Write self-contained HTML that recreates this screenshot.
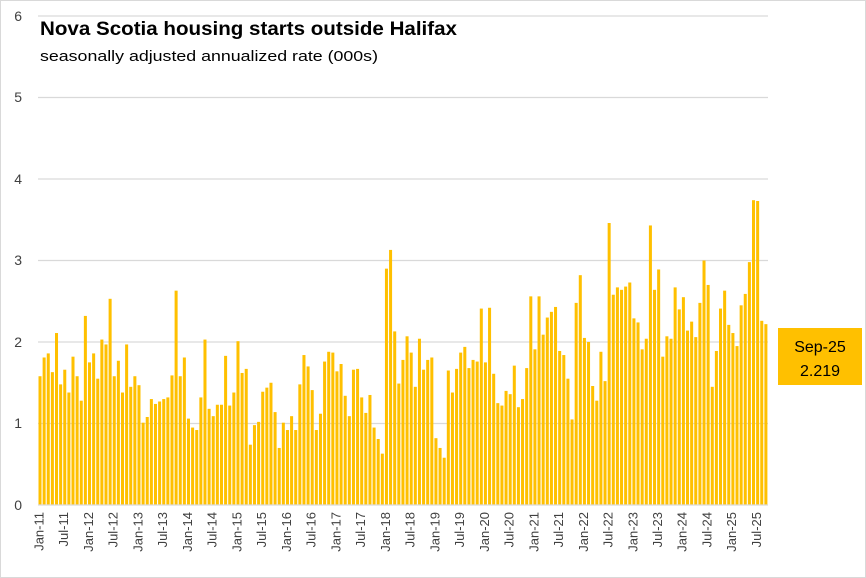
<!DOCTYPE html>
<html><head><meta charset="utf-8"><style>
body{margin:0;background:#fff;}
svg{display:block;font-family:"Liberation Sans",Arial,sans-serif;}
</style></head><body>
<svg id="c" width="866" height="578" viewBox="0 0 866 578" xmlns="http://www.w3.org/2000/svg">
<rect x="0.5" y="0.5" width="865" height="577" fill="#fff" stroke="#d9d9d9"/>
<g stroke="#d9d9d9" stroke-width="1.3">
<line x1="38" x2="768" y1="16" y2="16"/>
<line x1="38" x2="768" y1="97.5" y2="97.5"/>
<line x1="38" x2="768" y1="179" y2="179"/>
<line x1="38" x2="768" y1="260.5" y2="260.5"/>
<line x1="38" x2="768" y1="342" y2="342"/>
<line x1="38" x2="768" y1="423.5" y2="423.5"/>
</g>
<g id="bars" fill="#FFC000"></g>
<line x1="38" x2="768" y1="505" y2="505" stroke="#d9d9d9" stroke-width="1.3"/>
<g font-size="14" fill="#404040" text-anchor="end">
<text x="22" y="21">6</text><text x="22" y="102">5</text><text x="22" y="184">4</text>
<text x="22" y="265">3</text><text x="22" y="347">2</text><text x="22" y="428">1</text><text x="22" y="510">0</text>
</g>
<text x="40" y="35" font-size="19" font-weight="bold" fill="#000" textLength="417" lengthAdjust="spacingAndGlyphs">Nova Scotia housing starts outside Halifax</text>
<text x="40" y="61" font-size="15" fill="#000" textLength="338" lengthAdjust="spacingAndGlyphs">seasonally adjusted annualized rate (000s)</text>
<g font-size="13" fill="#404040" text-anchor="end" dominant-baseline="middle">
<text transform="translate(40.1,512) rotate(-90)">Jan-11</text>
<text transform="translate(64.8,512) rotate(-90)">Jul-11</text>
<text transform="translate(89.6,512) rotate(-90)">Jan-12</text>
<text transform="translate(114.3,512) rotate(-90)">Jul-12</text>
<text transform="translate(139.1,512) rotate(-90)">Jan-13</text>
<text transform="translate(163.8,512) rotate(-90)">Jul-13</text>
<text transform="translate(188.5,512) rotate(-90)">Jan-14</text>
<text transform="translate(213.3,512) rotate(-90)">Jul-14</text>
<text transform="translate(238.0,512) rotate(-90)">Jan-15</text>
<text transform="translate(262.8,512) rotate(-90)">Jul-15</text>
<text transform="translate(287.5,512) rotate(-90)">Jan-16</text>
<text transform="translate(312.2,512) rotate(-90)">Jul-16</text>
<text transform="translate(337.0,512) rotate(-90)">Jan-17</text>
<text transform="translate(361.7,512) rotate(-90)">Jul-17</text>
<text transform="translate(386.5,512) rotate(-90)">Jan-18</text>
<text transform="translate(411.2,512) rotate(-90)">Jul-18</text>
<text transform="translate(435.9,512) rotate(-90)">Jan-19</text>
<text transform="translate(460.7,512) rotate(-90)">Jul-19</text>
<text transform="translate(485.4,512) rotate(-90)">Jan-20</text>
<text transform="translate(510.2,512) rotate(-90)">Jul-20</text>
<text transform="translate(534.9,512) rotate(-90)">Jan-21</text>
<text transform="translate(559.6,512) rotate(-90)">Jul-21</text>
<text transform="translate(584.4,512) rotate(-90)">Jan-22</text>
<text transform="translate(609.1,512) rotate(-90)">Jul-22</text>
<text transform="translate(633.9,512) rotate(-90)">Jan-23</text>
<text transform="translate(658.6,512) rotate(-90)">Jul-23</text>
<text transform="translate(683.3,512) rotate(-90)">Jan-24</text>
<text transform="translate(708.1,512) rotate(-90)">Jul-24</text>
<text transform="translate(732.8,512) rotate(-90)">Jan-25</text>
<text transform="translate(757.6,512) rotate(-90)">Jul-25</text>
</g>
<rect x="778" y="328" width="84" height="57" fill="#FFC000"/>
<text x="820" y="352" font-size="16" text-anchor="middle" fill="#000">Sep-25</text>
<text x="820" y="376" font-size="16" text-anchor="middle" fill="#000">2.219</text>
</svg>
<script>
var v=[1.58,1.81,1.86,1.63,2.11,1.48,1.66,1.38,1.82,1.58,1.28,2.32,
1.75,1.86,1.55,2.03,1.97,2.53,1.58,1.77,1.38,1.97,1.45,1.58,
1.47,1.01,1.08,1.30,1.24,1.27,1.30,1.32,1.59,2.63,1.58,1.81,
1.06,0.95,0.92,1.32,2.03,1.18,1.09,1.23,
1.23,1.83,1.22,1.38,2.01,1.62,1.67,0.74,0.98,1.02,1.39,1.44,
1.50,1.14,0.70,1.01,0.92,1.09,0.92,1.48,1.84,1.70,1.41,0.92,
1.12,1.76,1.88,1.87,1.64,1.73,1.34,1.09,1.66,1.67,1.32,1.13,
1.35,0.95,0.81,0.63,2.90,3.13,2.13,1.49,1.78,
2.07,1.87,1.45,2.04,1.66,1.78,1.81,0.82,0.70,0.58,1.65,1.38,1.67,1.87,1.94,1.68,1.78,1.76,2.41,1.75,2.42,1.61,1.25,1.22,1.40,1.36,1.71,1.20,1.30,1.68,2.56,1.91,2.56,2.09,2.30,2.37,2.43,1.89,1.84,1.55,1.05,2.48,2.82,2.05,2.0,1.46,
1.28,1.88,1.52,3.46,2.58,2.67,2.64,2.68,2.73,2.29,2.24,1.91,2.04,3.43,2.64,2.89,1.82,2.07,2.04,2.67,2.40,2.55,2.14,2.25,2.06,2.48,3.0,2.70,1.45,1.89,2.41,2.63,2.21,2.11,1.95,2.45,2.59,2.98,3.74,3.73,2.26,2.219];
var g=document.getElementById('bars'),s='',w=730/177;
for(var i=0;i<v.length;i++){var h=v[i]*81.5;s+='<rect x="'+(38+i*w+0.5).toFixed(2)+'" y="'+(505-h).toFixed(2)+'" width="'+(w-1.1).toFixed(2)+'" height="'+h.toFixed(2)+'"/>';}
g.innerHTML=s;
</script>
</body></html>
